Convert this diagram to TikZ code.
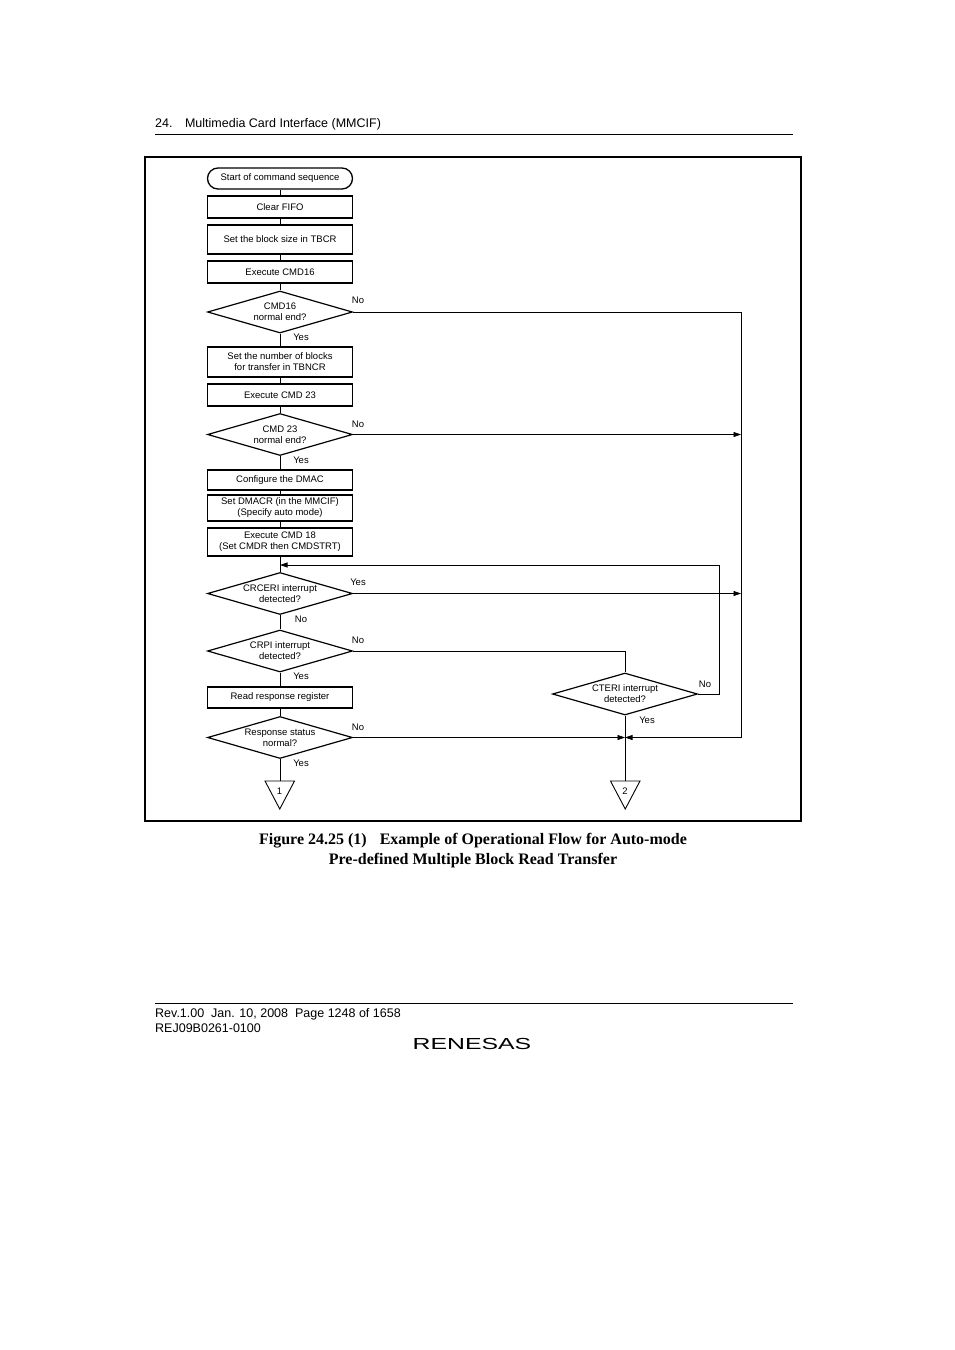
\documentclass[tikz,border=0pt]{standalone}
\usepackage{fontspec}
\setmainfont{Liberation Sans}
\newfontfamily\capfont{Liberation Serif}
\usetikzlibrary{shapes.geometric,arrows.meta}
\begin{document}
\begin{tikzpicture}[x=1pt,y=-1pt,
	every node/.style={font=\fontsize{9.5}{11}\selectfont,inner sep=0},
	proc/.style={draw,line width=1.3pt,minimum width=145,minimum height=#1,align=center},
	decide/.style={draw,diamond,aspect=3.45,line width=1.2pt,minimum width=145,minimum height=42,align=center},
	line/.style={line width=0.8pt},
	arr/.style={line width=0.8pt,-{Triangle[length=7.5pt,width=5pt]}}]
	\useasboundingbox (0,0) rectangle (954,1350);
	% page head
	\node[anchor=base west,font=\fontsize{12.5}{14}\selectfont] (head) at (155,127) {24.\quad Multimedia Card Interface (MMCIF)};
	\draw[line width=0.8pt] (155,134) -- (793,134);
	\draw[line width=1.2pt] (145,157) rectangle (801,821);
	% main column
	\node[draw,line width=1.3pt,rounded corners=10.5,minimum width=145,minimum height=21] (start) at (280,178.5) {Start of command sequence};
	\node[proc=22] (fifo) at (280,207) {Clear FIFO};
	\node[proc=29] (tbcr) at (280,239.5) {Set the block size in TBCR};
	\node[proc=22] (c16) at (280,272) {Execute CMD16};
	\node[decide] (d16) at (280,312) {CMD16\\normal end?};
	\node[proc=30] (tbncr) at (280,362) {Set the number of blocks\\for transfer in TBNCR};
	\node[proc=22] (c23) at (280,395) {Execute CMD 23};
	\node[decide] (d23) at (280,434.5) {CMD 23\\normal end?};
	\node[proc=20] (dmac) at (280,480) {Configure the DMAC};
	\node[proc=26] (dmacr) at (280,508) {Set DMACR (in the MMCIF)\\(Specify auto mode)};
	\node[proc=28] (c18) at (280,542) {Execute CMD 18\\(Set CMDR then CMDSTRT)};
	\node[decide] (crc) at (280,593.5) {CRCERI interrupt\\detected?};
	\node[decide] (crp) at (280,651) {CRPI interrupt\\detected?};
	\node[proc=21] (resp) at (280,697.5) {Read response register};
	\node[decide] (rs) at (280,737.5) {Response status\\normal?};
	\node[decide] (cte) at (625,694) {CTERI interrupt\\detected?};
	% off-page connectors
	\draw[line width=0.9pt] (265,781) -- (294.5,781) -- (279.75,809) -- cycle;
	\draw[line width=0.9pt] (610.5,781) -- (640,781) -- (625.25,809) -- cycle;
	\node (p1) at (279.5,791) {1};
	\node (p2) at (625,791) {2};
	\coordinate (t1) at (280,781);
	\coordinate (t2) at (625,781);
	% bends
	\coordinate (rt) at (741,312);
	\coordinate (rb) at (741,737.5);
	\coordinate (j2) at (625,737.5);
	\coordinate (lpr) at (719,565);
	\coordinate (lp) at (280,565);
	% connectors
	\draw[line] (start) -- (fifo) -- (tbcr) -- (c16) -- (d16) -- (tbncr) -- (c23) -- (d23) -- (dmac) -- (dmacr) -- (c18) -- (crc) -- (crp) -- (resp) -- (rs) -- (t1);
	\draw[line] (d16.east) -- (rt) -- (rb);
	\draw[arr] (rb) -- (j2);
	\draw[arr] (d23.east) -- (d23.east -| rt);
	\draw[arr] (crc.east) -- (crc.east -| rt);
	\draw[line] (crp.east) -| (cte.north);
	\draw[arr] (cte.east) -| (lpr) -- (lp);
	\draw[arr] (rs.east) -- (j2);
	\draw[line] (cte.south) -- (t2);
	% branch labels
	\node (n16) at (358,300) {No};
	\node (y16) at (301,337) {Yes};
	\node (n23) at (358,424) {No};
	\node (y23) at (301,460) {Yes};
	\node (ycrc) at (358,582.5) {Yes};
	\node (ncrc) at (301,619) {No};
	\node (ncrp) at (358,640) {No};
	\node (ycrp) at (301,676) {Yes};
	\node (nrs) at (358,727) {No};
	\node (yrs) at (301,763) {Yes};
	\node (ncte) at (705,684) {No};
	\node (ycte) at (647,720) {Yes};
	% caption
	\node[font=\capfont\bfseries\fontsize{16}{20.5}\selectfont,align=center] (cap) at (473,850.5) {Figure 24.25 (1)\hspace{13pt}Example of Operational Flow for Auto-mode\\Pre-defined Multiple Block Read Transfer};
	% page foot
	\draw[line width=0.8pt] (155,1003) -- (793,1003);
	\node[anchor=base west,font=\fontsize{12.5}{15}\selectfont] (foot) at (155,1017) {Rev.1.00\ \ Jan. 10, 2008\ \ Page 1248 of 1658};
	\node[anchor=base west,font=\fontsize{12.5}{15}\selectfont] (code) at (155,1032) {REJ09B0261-0100};
	\node[font=\fontsize{16}{16}\selectfont,xscale=1.55,transform shape] (logo) at (472,1044) {RENESAS};
\end{tikzpicture}
\end{document}
